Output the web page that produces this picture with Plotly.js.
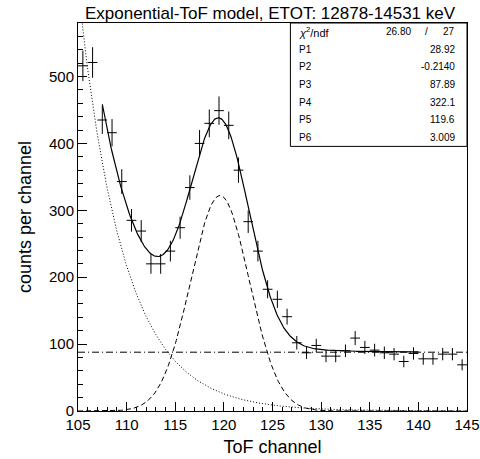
<!DOCTYPE html>
<html>
<head>
<meta charset="utf-8">
<script src="https://cdn.plot.ly/plotly-3.0.1.min.js"></script>
<style>html,body{margin:0;padding:0;background:#fff;}#chart{width:480px;height:459px;}</style>
</head>
<body>
<div id="chart"></div>
<script>
// ---- data ----
const channels = [105.5,106.5,107.5,108.5,109.5,110.5,111.5,112.5,113.5,114.5,
                  115.5,116.5,117.5,118.5,119.5,120.5,121.5,122.5,123.5,124.5,
                  125.5,126.5,127.5,128.5,129.5,130.5,131.5,132.5,133.5,134.5,
                  135.5,136.5,137.5,138.5,139.5,140.5,141.5,142.5,143.5,144.5];
const counts = [516,521,435,416,343,285,269,220,220,239,
                274,334,400,430,449,427,360,283,239,182,
                167,141,102,87,98,82,82,90,109,95,
                91,87,85,74,86,78,78,85,85,69];
// fit parameters shown in the stats box
const statLabels = ["P1","P2","P3","P4","P5","P6"];
const statValues = ["28.92","-0.2140","87.89","322.1","119.6","3.009"];
const chi2 = "26.80", ndf = "27";
const P1 = 28.92, P2 = -0.2140, P3 = 87.89, P4 = 322.1, P5 = 119.6, P6 = 3.009;
const fitRange = [107.5, 140];
const xTicks = [105,110,115,120,125,130,135,140,145];
const yTicks = [0,100,200,300,400,500];

// ---- model functions (the fitted curve) ----
const expo = x => Math.exp(P1 + P2 * x);
const gaus = x => P4 * Math.exp(-0.5 * Math.pow((x - P5) / P6, 2));
const total = x => expo(x) + P3 + gaus(x);
function sample(f, a, b, n) {
  const xs = [], ys = [];
  for (let i = 0; i <= n; i++) { const x = a + (b - a) * i / n; xs.push(x); ys.push(f(x)); }
  return {x: xs, y: ys};
}
const full = [105, 145];
const sExp = sample(expo, full[0], full[1], 400);
const sGau = sample(gaus, full[0], full[1], 400);
const sCon = sample(() => P3, full[0], full[1], 2);
const sTot = sample(total, fitRange[0], fitRange[1], 400);

const FONT = '"Liberation Sans", Arial, Helvetica, sans-serif';

const traces = [
  {x: sExp.x, y: sExp.y, mode: 'lines', line: {color: 'black', width: 1, dash: '1px,2px'}, hoverinfo: 'skip', showlegend: false},
  {x: sGau.x, y: sGau.y, mode: 'lines', line: {color: 'black', width: 1, dash: '5px,3px'}, hoverinfo: 'skip', showlegend: false},
  {x: sCon.x, y: sCon.y, mode: 'lines', line: {color: 'black', width: 1, dash: '7px,3px,1px,3px'}, hoverinfo: 'skip', showlegend: false},
  {x: sTot.x, y: sTot.y, mode: 'lines', line: {color: 'black', width: 1.2}, hoverinfo: 'skip', showlegend: false},
  {x: channels, y: counts, mode: 'markers', type: 'scatter',
   marker: {size: 1, color: 'rgba(0,0,0,0)'},
   error_x: {type: 'constant', value: 0.5, width: 0, thickness: 1, color: 'black'},
   error_y: {type: 'data', array: counts.map(Math.sqrt), width: 0, thickness: 1, color: 'black'},
   showlegend: false}
];

// stats box geometry (paper coords)
const boxX0 = 0.546, boxY0 = 0.682;
const rowY = [0.977, 0.932, 0.887, 0.841, 0.796, 0.751, 0.705];
const annotations = [];
annotations.push({xref: 'paper', yref: 'paper', x: 0.564, y: rowY[0], xanchor: 'left', yanchor: 'middle', showarrow: false,
  text: '<i>χ</i><sup>2</sup>/ndf', font: {family: FONT, size: 11, color: 'black'}});
annotations.push({xref: 'paper', yref: 'paper', x: 0.861, y: rowY[0], xanchor: 'right', yanchor: 'middle', showarrow: false,
  text: chi2, font: {family: FONT, size: 10, color: 'black'}});
annotations.push({xref: 'paper', yref: 'paper', x: 0.897, y: rowY[0], xanchor: 'center', yanchor: 'middle', showarrow: false,
  text: '/', font: {family: FONT, size: 10, color: 'black'}});
annotations.push({xref: 'paper', yref: 'paper', x: 0.974, y: rowY[0], xanchor: 'right', yanchor: 'middle', showarrow: false,
  text: ndf, font: {family: FONT, size: 10, color: 'black'}});
statLabels.forEach((lab, i) => {
  annotations.push({xref: 'paper', yref: 'paper', x: 0.564, y: rowY[i + 1], xanchor: 'left', yanchor: 'middle', showarrow: false,
    text: lab, font: {family: FONT, size: 10, color: 'black'}});
  annotations.push({xref: 'paper', yref: 'paper', x: 0.974, y: rowY[i + 1], xanchor: 'right', yanchor: 'middle', showarrow: false,
    text: statValues[i], font: {family: FONT, size: 10, color: 'black'}});
});

const layout = {
  width: 480, height: 459,
  margin: {l: 78, r: 13, t: 23, b: 48, pad: 0},
  paper_bgcolor: 'white', plot_bgcolor: 'white',
  font: {family: FONT, color: 'black'},
  title: {text: 'Exponential-ToF model, ETOT: 12878-14531 keV', xref: 'container', yref: 'container',
          x: 0.5625, y: 0.972, xanchor: 'center', yanchor: 'middle', font: {family: FONT, size: 17, color: 'black'}},
  xaxis: {range: [105, 145], tickmode: 'array', tickvals: xTicks, ticktext: xTicks.map(String),
          ticks: 'inside', ticklen: 9, tickwidth: 1, tickcolor: 'black',
          minor: {ticks: 'inside', dtick: 1, tick0: 105, ticklen: 4, tickwidth: 1, tickcolor: 'black', showgrid: false},
          showline: true, mirror: true, linecolor: 'black', linewidth: 1, showgrid: false, zeroline: false,
          tickfont: {family: FONT, size: 15, color: 'black'},
          title: {text: 'ToF channel', font: {family: FONT, size: 18, color: 'black'}, standoff: 8}},
  yaxis: {range: [0, 580], tickmode: 'array', tickvals: yTicks, ticktext: yTicks.map(String),
          ticks: 'inside', ticklen: 9, tickwidth: 1, tickcolor: 'black',
          minor: {ticks: 'inside', dtick: 20, tick0: 0, ticklen: 5, tickwidth: 1, tickcolor: 'black', showgrid: false},
          showline: true, mirror: true, linecolor: 'black', linewidth: 1, showgrid: false, zeroline: false,
          tickfont: {family: FONT, size: 15, color: 'black'},
          title: {text: 'counts per channel', font: {family: FONT, size: 18, color: 'black'}, standoff: 12}},
  shapes: [
    {type: 'rect', xref: 'paper', yref: 'paper', x0: boxX0, x1: 1, y0: boxY0, y1: 1,
     line: {color: 'black', width: 1}, fillcolor: 'white', layer: 'above'}
  ],
  annotations: annotations
};

Plotly.newPlot('chart', traces, layout, {displayModeBar: false, staticPlot: true});
</script>
</body>
</html>
